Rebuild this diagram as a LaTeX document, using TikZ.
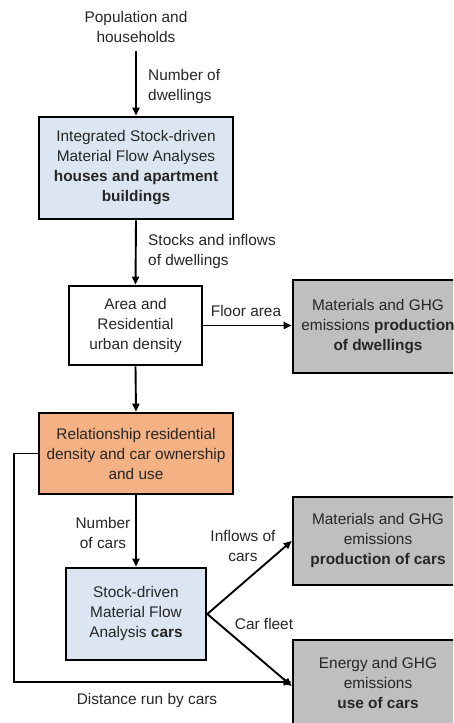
\documentclass[tikz,border=0pt]{standalone}
\usepackage{fontspec}
\setmainfont{Liberation Sans}
\usetikzlibrary{arrows.meta}

\definecolor{mfablue}{HTML}{DCE6F2}
\definecolor{relorange}{HTML}{F4B183}
\definecolor{impactgray}{HTML}{BFBFBF}

\tikzset{
  txt/.style={font=\fontsize{15.4}{20}\selectfont, inner sep=2pt, text=black!85},
  box/.style={txt, draw=black, line width=2.6pt, align=center, inner sep=0pt},
  flow/.style={line width=1.9pt, -{Triangle[length=8pt,width=7pt]}},
  plainline/.style={line width=1.9pt},
}

\begin{document}
\begin{tikzpicture}[x=1pt,y=-1pt]
\clip (0,0) rectangle (453,723);
\fill[white] (0,0) rectangle (453,723);

% input
\node[txt, align=center] (pop) at (136,27) {Population and\\households};

% dwelling chain
\node[box, fill=mfablue, minimum width=194pt, minimum height=102pt] (mfahouse) at (136,168)
  {Integrated Stock-driven\\Material Flow Analyses\\\textbf{houses and apartment}\\\textbf{buildings}};
\node[box, fill=white, minimum width=133pt, minimum height=79pt] (density) at (135.5,325.5)
  {Area and\\Residential\\urban density};
\node[box, fill=impactgray, minimum width=170pt, minimum height=93pt] (proddwell) at (378,326.5)
  {Materials and GHG\\emissions \textbf{production}\\\textbf{of dwellings}};

% car chain
\node[box, fill=relorange, minimum width=194pt, minimum height=81pt] (relation) at (136,453.5)
  {Relationship residential\\density and car ownership\\and use};
\node[box, fill=mfablue, minimum width=140pt, minimum height=92pt] (mfacars) at (136,614)
  {Stock-driven\\Material Flow\\Analysis \textbf{cars}};
\node[box, fill=impactgray, minimum width=170pt, minimum height=88pt] (prodcars) at (378,541)
  {Materials and GHG\\emissions\\\textbf{production of cars}};
\node[box, fill=impactgray, minimum width=170pt, minimum height=86pt] (usecars) at (378,683)
  {Energy and GHG\\emissions\\\textbf{use of cars}};

% flow labels
\node[txt, align=left, anchor=west] (lbldwell) at (146,87) {Number of\\dwellings};
\node[txt, align=left, anchor=west] (lblstock) at (146,252) {Stocks and inflows\\of dwellings};
\node[txt] (lblfloor) at (246,311) {Floor area};
\node[txt, align=center] (lblncars) at (103,533) {Number\\of cars};
\node[txt, align=center] (lblinflow) at (243,546) {Inflows of\\cars};
\node[txt] (lblfleet) at (264,624) {Car fleet};
\node[txt] (lbldist) at (147,701) {Distance run by cars};

% connectors
\draw[flow, shorten <=6pt] (pop.south) -- (mfahouse.north);
\draw[flow] (mfahouse.south) -- (density.north);
\draw[flow] (density.east) -- (density.east -| proddwell.west);
\draw[flow] (density.south) -- (relation.north);
\draw[flow] (relation.south) -- (mfacars.north);
\draw[flow] (mfacars.east) -- (prodcars.west);
\draw[flow] (mfacars.east) -- ([yshift=-3pt]usecars.west);
\coordinate (loopcorner) at (14,682);
\draw[flow] (relation.west) -| (loopcorner) -- (loopcorner -| usecars.west);
\end{tikzpicture}
\end{document}
